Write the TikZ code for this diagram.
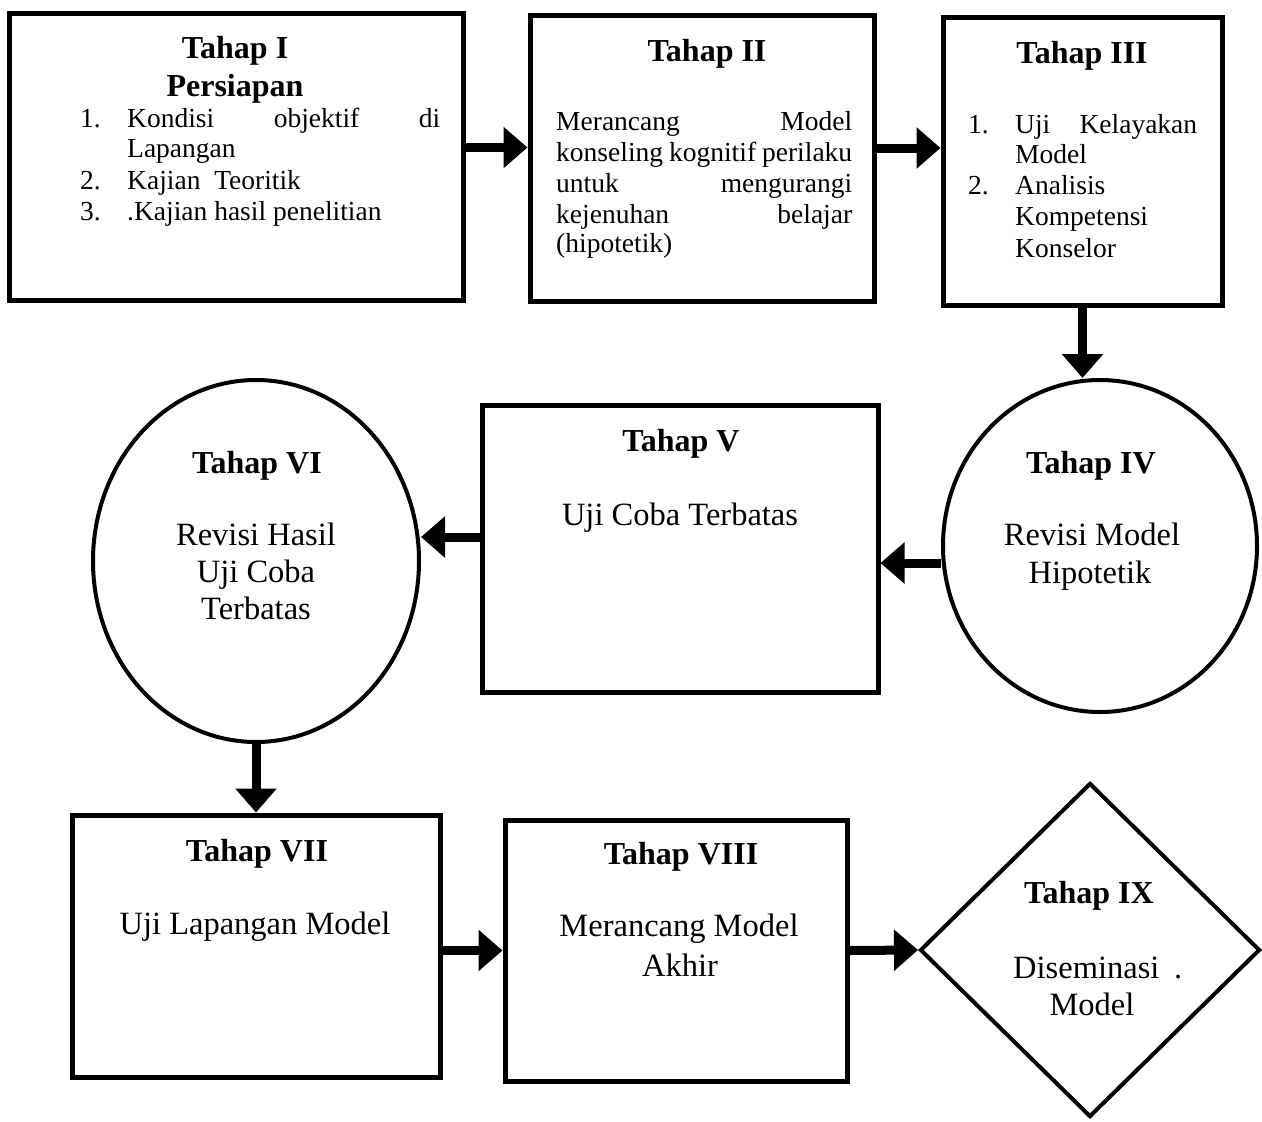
\documentclass[tikz,border=0pt]{standalone}
\usepackage{fontspec}
\setmainfont{Liberation Serif}
\usetikzlibrary{shapes.geometric,arrows.meta}
\newcommand{\ttlfont}{\fontsize{32}{38}\selectfont\bfseries}
\newcommand{\bigbody}{\fontsize{32.5}{38}\selectfont}
\newcommand{\smallbody}{\fontsize{27.5}{31}\selectfont}
\begin{document}
\begin{tikzpicture}[x=1pt,y=-1pt,
  box/.style={draw, rectangle, line width=5pt, inner sep=0pt},
  oval/.style={draw, ellipse, line width=4pt, inner sep=0pt},
  rhomb/.style={draw, diamond, line width=4pt, inner sep=0pt},
  arr/.style={line width=9pt, -{Triangle[length=24pt,width=40pt]}},
  ttl/.style={anchor=base, inner sep=0pt, font=\ttlfont},
  txt/.style={anchor=base, inner sep=0pt, font=\bigbody},
  sm/.style={anchor=base west, inner sep=0pt, font=\smallbody}]
\useasboundingbox (0,0) rectangle (1262,1122);

% shapes
\node[box, minimum width=454pt, minimum height=287pt] (I) at (236,156.5) {};
\node[box, minimum width=344pt, minimum height=286pt] (II) at (702,158) {};
\node[box, minimum width=279pt, minimum height=288pt] (III) at (1082.5,161) {};
\node[oval, minimum width=314pt, minimum height=332pt] (IV) at (1100,546) {};
\node[box, minimum width=396pt, minimum height=287pt] (V) at (680,548.5) {};
\node[oval, minimum width=326pt, minimum height=362pt] (VI) at (256,561) {};
\node[box, minimum width=368pt, minimum height=262pt] (VII) at (256,946) {};
\node[box, minimum width=342pt, minimum height=261pt] (VIII) at (676,950.5) {};
\node[rhomb, minimum width=340pt, minimum height=334pt] (IX) at (1090,950) {};

% arrows
\draw[arr] ([yshift=9pt]I.east) -- ([yshift=9pt]I.east -| II.west);
\draw[arr] ([yshift=10pt]II.east) -- ([yshift=10pt]II.east -| III.west);
\draw[arr] (III.south) -- (III.south |- IV.north);
\draw[arr] ([yshift=-17pt]IV.west) -- ([yshift=-17pt]IV.west -| V.east);
\draw[arr] ([yshift=11.5pt]V.west) -- ([yshift=11.5pt]V.west -| VI.east);
\draw[arr] (VI.south) -- (VII.north);
\draw[arr] (VII.east |- VIII.west) -- (VIII.west);
\draw[arr] (VIII.east) -- (IX.west);

% Tahap I
\node[ttl] (t1) at (235,58) {Tahap I};
\node[ttl] (t1p) at (235,96) {Persiapan};
\node[sm] (t1n1) at (80,127) {1.};
\node[sm] (t1a) at (127,127) {\hbox to 313pt{Kondisi\hfill objektif\hfill di}};
\node[sm] (t1b) at (127,157) {Lapangan};
\node[sm] (t1n2) at (80,189) {2.};
\node[sm] (t1c) at (127,189) {Kajian\ \ Teoritik};
\node[sm] (t1n3) at (80,220) {3.};
\node[sm] (t1d) at (127,220) {.Kajian hasil penelitian};

% Tahap II
\node[ttl] (t2) at (707,61) {Tahap II};
\node[sm] (t2a) at (556,130) {\hbox to 296pt{Merancang\hfill Model}};
\node[sm] (t2b) at (556,161) {\hbox to 296pt{konseling\hfill kognitif\hfill perilaku}};
\node[sm] (t2c) at (556,192) {\hbox to 296pt{untuk\hfill mengurangi}};
\node[sm] (t2d) at (556,223) {\hbox to 296pt{kejenuhan\hfill belajar}};
\node[sm] (t2e) at (556,252) {(hipotetik)};

% Tahap III
\node[ttl] (t3) at (1082,63) {Tahap III};
\node[sm] (t3n1) at (968,133) {1.};
\node[sm] (t3a) at (1015,133) {\hbox to 182pt{Uji\hfill Kelayakan}};
\node[sm] (t3b) at (1015,163) {Model};
\node[sm] (t3n2) at (968,194) {2.};
\node[sm] (t3c) at (1015,194) {Analisis};
\node[sm] (t3d) at (1015,225) {Kompetensi};
\node[sm] (t3e) at (1015,257) {Konselor};

% Tahap IV
\node[ttl] (t4) at (1091,473) {Tahap IV};
\node[txt] (t4a) at (1092,545) {Revisi Model};
\node[txt] (t4b) at (1090,583) {Hipotetik};

% Tahap V
\node[ttl] (t5) at (681,451) {Tahap V};
\node[txt] (t5a) at (680,525) {Uji Coba Terbatas};

% Tahap VI
\node[ttl] (t6) at (257,473) {Tahap VI};
\node[txt] (t6a) at (256,545) {Revisi Hasil};
\node[txt] (t6b) at (256,582) {Uji Coba};
\node[txt] (t6c) at (256,619) {Terbatas};

% Tahap VII
\node[ttl] (t7) at (257,861) {Tahap VII};
\node[txt] (t7a) at (255,934) {Uji Lapangan Model};

% Tahap VIII
\node[ttl] (t8) at (681,864) {Tahap VIII};
\node[txt] (t8a) at (679,936) {Merancang Model};
\node[txt] (t8b) at (680,976) {Akhir};

% Tahap IX
\node[ttl] (t9) at (1089,903) {Tahap IX};
\node[txt, anchor=base west] (t9a) at (1013,978) {Diseminasi\hspace{0.45em}.};
\node[txt] (t9b) at (1092,1015) {Model};
\end{tikzpicture}
\end{document}
